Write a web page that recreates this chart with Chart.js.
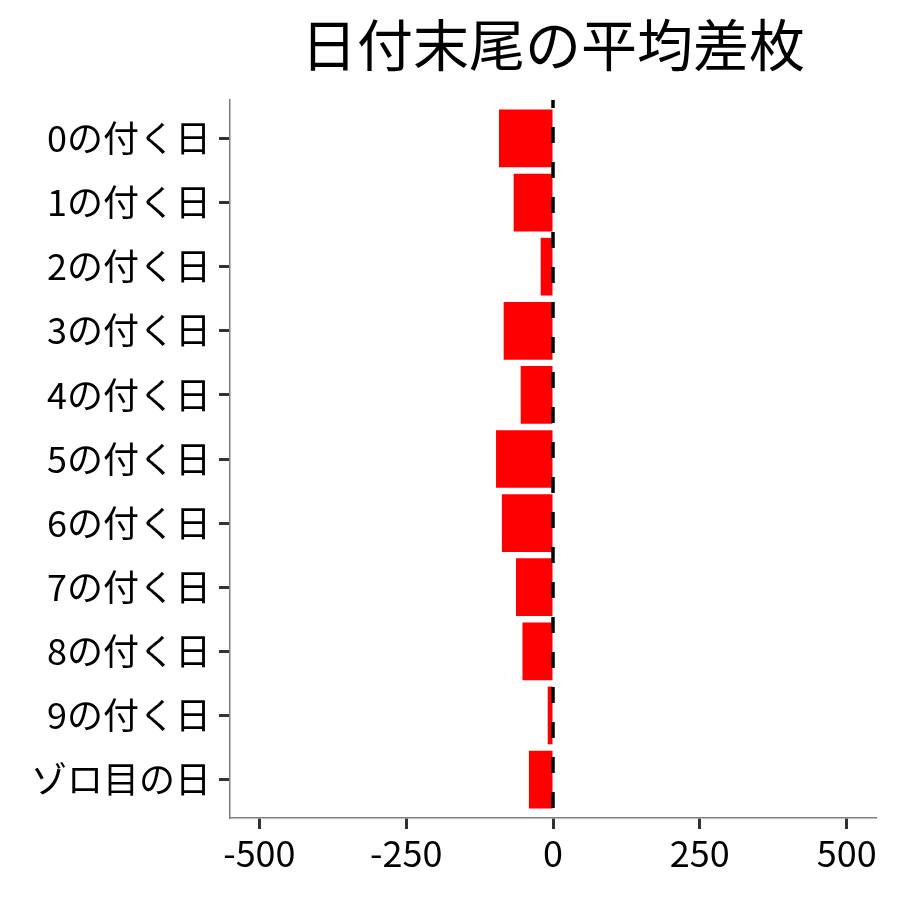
<!doctype html>
<html lang="ja">
<head>
  <meta charset="utf-8">
  <title>日付末尾の平均差枚</title>
  <style>
    html, body { margin: 0; padding: 0; background: #fff; }
    .wrap { width: 900px; height: 900px; }
  </style>
</head>
<body>
  <div class="wrap"><canvas id="chart" width="900" height="900"></canvas></div>

  <script src="https://cdn.jsdelivr.net/npm/chart.js"></script>
  <script>
    const title      = '日付末尾の平均差枚';
    const categories = ['0の付く日', '1の付く日', '2の付く日', '3の付く日', '4の付く日',
                        '5の付く日', '6の付く日', '7の付く日', '8の付く日', '9の付く日', 'ゾロ目の日'];
    const diffs      = [-92, -67, -21, -84, -55, -97, -87, -63, -52, -9, -41];
    const xTicks     = [-500, -250, 0, 250, 500];

    const FONT = '"Noto Sans CJK JP", "Noto Sans", sans-serif';

    // ggplot style title centred over the panel, plus dashed zero line
    const extras = {
      id: 'extras',
      afterDatasetsDraw(chart) {
        const { ctx, chartArea: a, scales } = chart;
        const x0 = scales.x.getPixelForValue(0);
        ctx.save();
        ctx.strokeStyle = '#000';
        ctx.lineWidth = 3.5;
        ctx.setLineDash([16, 19]);
        ctx.lineDashOffset = 8;
        ctx.beginPath();
        ctx.moveTo(x0, a.top);
        ctx.lineTo(x0, a.bottom);
        ctx.stroke();
        ctx.restore();
      },
      afterDraw(chart) {
        const { ctx, chartArea: a } = chart;
        ctx.save();
        ctx.fillStyle = '#000';
        ctx.font = '56px ' + FONT;
        ctx.textAlign = 'center';
        ctx.textBaseline = 'middle';
        ctx.fillText(title, (a.left + a.right) / 2, 45);
        ctx.restore();
      }
    };

    new Chart(document.getElementById('chart'), {
      type: 'bar',
      data: {
        datasets: [{
          data: diffs.map((v, i) => ({ x: v, y: i })),
          backgroundColor: '#ff0000',
          borderWidth: 0,
          barPercentage: 0.9,
          categoryPercentage: 1.0
        }]
      },
      options: {
        indexAxis: 'y',
        responsive: false,
        devicePixelRatio: 1,
        animation: false,
        layout: { padding: { top: 100, right: 24, bottom: 0, left: 0 } },
        plugins: {
          legend: { display: false },
          tooltip: { enabled: false }
        },
        scales: {
          x: {
            type: 'linear',
            min: -550,
            max: 550,
            afterBuildTicks: s => { s.ticks = xTicks.map(v => ({ value: v })); },
            afterFit: s => { s.height = 82; },
            border: { display: true, color: '#7f7f7f', width: 1.5 },
            grid: { drawOnChartArea: false, tickLength: 11, tickColor: '#333', tickWidth: 3 },
            ticks: {
              color: '#000',
              padding: 3,
              font: { family: FONT, size: 36 },
              callback: v => String(v)
            }
          },
          y: {
            type: 'linear',
            reverse: true,
            offset: false,
            min: -0.6,
            max: categories.length - 0.4,
            afterBuildTicks: s => { s.ticks = categories.map((_, i) => ({ value: i })); },
            afterFit: s => { s.width = 230; },
            border: { display: true, color: '#7f7f7f', width: 1.5 },
            grid: { offset: false, drawOnChartArea: false, tickLength: 11, tickColor: '#333', tickWidth: 3 },
            ticks: {
              color: '#000',
              padding: 8,
              font: { family: FONT, size: 36 },
              callback: v => categories[v]
            }
          }
        }
      },
      plugins: [extras]
    });
  </script>
</body>
</html>
